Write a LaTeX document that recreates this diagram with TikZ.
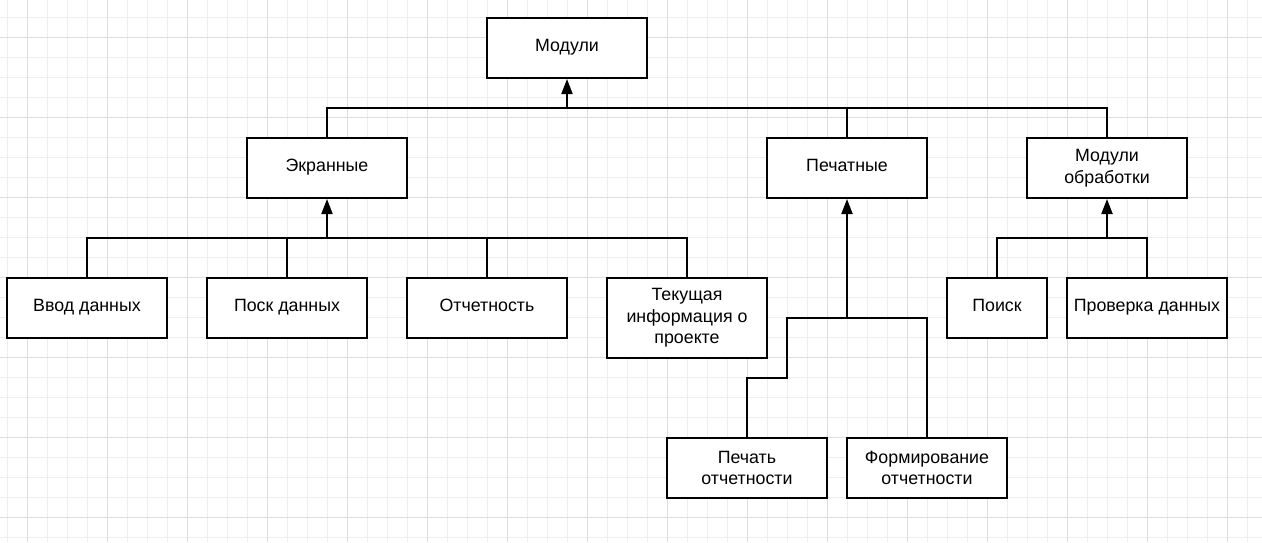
\documentclass[tikz,border=0pt]{standalone}
\usepackage{fontspec}
\setmainfont{Liberation Sans}
\usepackage{xcolor}
\usepackage{tikz}
\usetikzlibrary{arrows.meta, positioning, calc}

\definecolor{gridminor}{HTML}{EEEEEE}
\definecolor{gridmajor}{HTML}{DDDDDD}

\begin{document}
\begin{tikzpicture}[
    x=1pt, y=-1pt,
    box/.style={rectangle, draw=black, line width=2pt, fill=white, minimum width=160pt, minimum height=60pt, align=center, inner sep=2pt, font=\fontsize{17.8}{21.5}\selectfont},
    oneline/.style={box, text height=13pt, text depth=5.5pt},
    link/.style={draw=black, line width=2pt},
    uparrow/.style={link, -{Triangle[length=15pt, width=11pt]}},
    minorline/.style={gridminor, line width=1pt},
    majorline/.style={gridmajor, line width=1pt}
]

% Background grid
\useasboundingbox (0,0) rectangle (1262,542);
\fill[white] (0,0) rectangle (1262,542);
\foreach \x in {7,27,...,1262} \draw[minorline] (\x,0) -- (\x,542);
\foreach \y in {17,37,...,542} \draw[minorline] (0,\y) -- (1262,\y);
\foreach \x in {27,107,...,1262} \draw[majorline] (\x,0) -- (\x,542);
\foreach \y in {37,117,...,542} \draw[majorline] (0,\y) -- (1262,\y);

% Top level
\node[oneline] (moduli) at (567,48) {Модули};

% Second level
\node[oneline] (ekran) at (327,168) {Экранные};
\node[oneline] (pechatnye) at (847,168) {Печатные};
\node[box] (obrab) at (1107,168) {Модули\\обработки};

% Screen modules
\node[oneline] (vvod) at (87,308) {Ввод данных};
\node[oneline] (posk) at (287,308) {Поск данных};
\node[oneline] (otchet) at (487,308) {Отчетность};
\node[box, minimum height=80pt] (tekush) at (687,318) {Текущая\\информация о\\проекте};

% Processing modules
\node[oneline, minimum width=100pt] (poisk) at (997,308) {Поиск};
\node[oneline] (prover) at (1147,308) {Проверка данных};

% Print modules
\node[box] (pechotch) at (747,468) {Печать\\отчетности};
\node[box] (formotch) at (927,468) {Формирование\\отчетности};

% Bus points
\coordinate (busTop) at (567,108);
\coordinate (busEkran) at (327,238);
\coordinate (busObrab) at (1107,238);
\coordinate (busPech) at (847,318);
\coordinate (jogPech) at (787,378);

% Connectors to Модули
\draw[link] (ekran.north) |- (busTop) -| (obrab.north);
\draw[link] (pechatnye.north) -- (pechatnye.north |- busTop);
\draw[uparrow] (busTop) -- (moduli.south);

% Connectors to Экранные
\draw[link] (vvod.north) |- (busEkran) -| (tekush.north);
\draw[link] (posk.north) -- (posk.north |- busEkran);
\draw[link] (otchet.north) -- (otchet.north |- busEkran);
\draw[uparrow] (busEkran) -- (ekran.south);

% Connectors to Модули обработки
\draw[link] (poisk.north) |- (busObrab) -| (prover.north);
\draw[uparrow] (busObrab) -- (obrab.south);

% Connectors to Печатные
\draw[link] (pechotch.north) |- (jogPech) |- (busPech);
\draw[link] (formotch.north) |- (busPech);
\draw[uparrow] (busPech) -- (pechatnye.south);

\end{tikzpicture}
\end{document}
